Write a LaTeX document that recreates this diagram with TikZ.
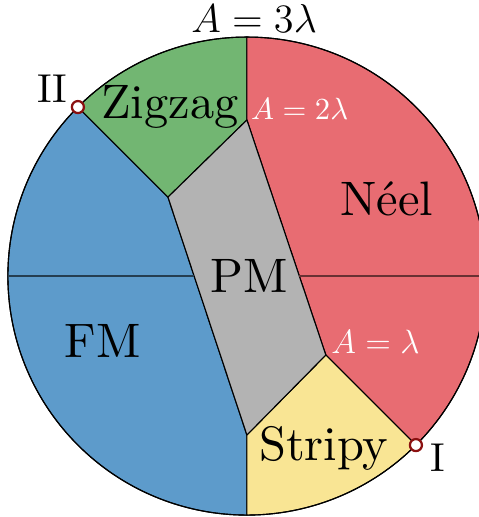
\documentclass[tikz,border=0pt]{standalone}
\usepackage{fontspec}
\setmainfont{lmroman10-regular}[Extension=.otf]
\usepackage{amsmath}
\usepackage{tikz}
\usetikzlibrary{calc}
\definecolor{PhaseBlue}{HTML}{5D9BCB}
\definecolor{PhaseGreen}{HTML}{72B672}
\definecolor{PhaseRed}{HTML}{E86C72}
\definecolor{PhaseGray}{HTML}{B3B3B3}
\definecolor{PhaseYellow}{HTML}{F9E594}
\definecolor{DotRed}{HTML}{8B1010}
\tikzset{
  RG/.style={draw=black,thin,line join=round},
  rB/.style={RG,fill=PhaseBlue},
  rG/.style={RG,fill=PhaseGreen},
  rR/.style={RG,fill=PhaseRed},
  rP/.style={RG,fill=PhaseGray},
  rY/.style={RG,fill=PhaseYellow},
  HL/.style={line width=0.45pt},
  dP/.style={circle,draw=DotRed,fill=white,line width=0.8pt,
             inner sep=0pt,minimum size=4.3pt},
  LP/.style={font=\LARGE,inner sep=0pt},
  LA/.style={font=\Large,inner sep=0pt},
  LS/.style={font=\fontsize{11}{13}\selectfont,text=white,inner sep=0pt},
  LM/.style={font=\large,text=white,inner sep=0pt}
}

\begin{document}
\begin{tikzpicture}[x=3cm,y=3cm]
  \useasboundingbox (-1.033,-1.008) rectangle (0.967,1.155);
  \coordinate (O) at (0,0);
  \coordinate (T) at (90:1);
  \coordinate (D) at (-90:1);
  \coordinate (W) at (180:1);
  \coordinate (E) at (0:1);
  \coordinate (P2) at (0,0.653);
  \coordinate (P1) at (-45:0.467);
  \coordinate (J) at (135:0.467);
  \coordinate (B) at (0,-0.665);
  \coordinate (cI) at (-45:1);
  \coordinate (cII) at (135:1);

  \path[rB] (cII) arc[start angle=135,end angle=270,radius=1] -- (B) -- (J) -- cycle;
  \path[rG] (T) arc[start angle=90,end angle=135,radius=1] -- (J) -- (P2) -- cycle;
  \path[rR] (cI) arc[start angle=-45,end angle=90,radius=1] -- (P2) -- (P1) -- cycle;
  \path[rY] (D) arc[start angle=-90,end angle=-45,radius=1] -- (P1) -- (B) -- cycle;
  \path[rP] (P2) -- (J) -- (B) -- (P1) -- cycle;
  \draw[thin] (O) circle[radius=1];

  \draw[HL,draw=PhaseBlue!40!black] (W) -- (intersection of J--B and W--E);
  \draw[HL,draw=PhaseRed!45!black] (intersection of P2--P1 and W--E) -- (E);

  \node[dP] (nI) at (cI) {};
  \node[dP] (nII) at (cII) {};

  \node[LA,anchor=base] (l3) at ($(T)+(0.03,0.017)$) {$A=3\lambda$};
  \node[LS,anchor=base west] (l2) at ($(P2)+(0.015,0)$) {$A=2\lambda$};
  \node[LM,anchor=base west] (l1) at ($(P1)+(0.021,0.008)$) {$A=\lambda$};
  \node[LP,anchor=base] (zz) at (-0.322,0.661) {Zigzag};
  \node[LP,anchor=base] (neel) at (0.586,0.255) {Néel};
  \node[LP,anchor=base] (pm) at (0.008,-0.067) {PM};
  \node[LP,anchor=base] (fm) at (-0.603,-0.339) {FM};
  \node[LP,anchor=base] (st) at (0.322,-0.770) {Stripy};
  \node[LA,anchor=base west] (tI) at ($(cI)+(0.057,-0.109)$) {I};
  \node[LA,anchor=base east] (tII) at ($(cII)+(-0.042,0.021)$) {II};
\end{tikzpicture}
\end{document}
